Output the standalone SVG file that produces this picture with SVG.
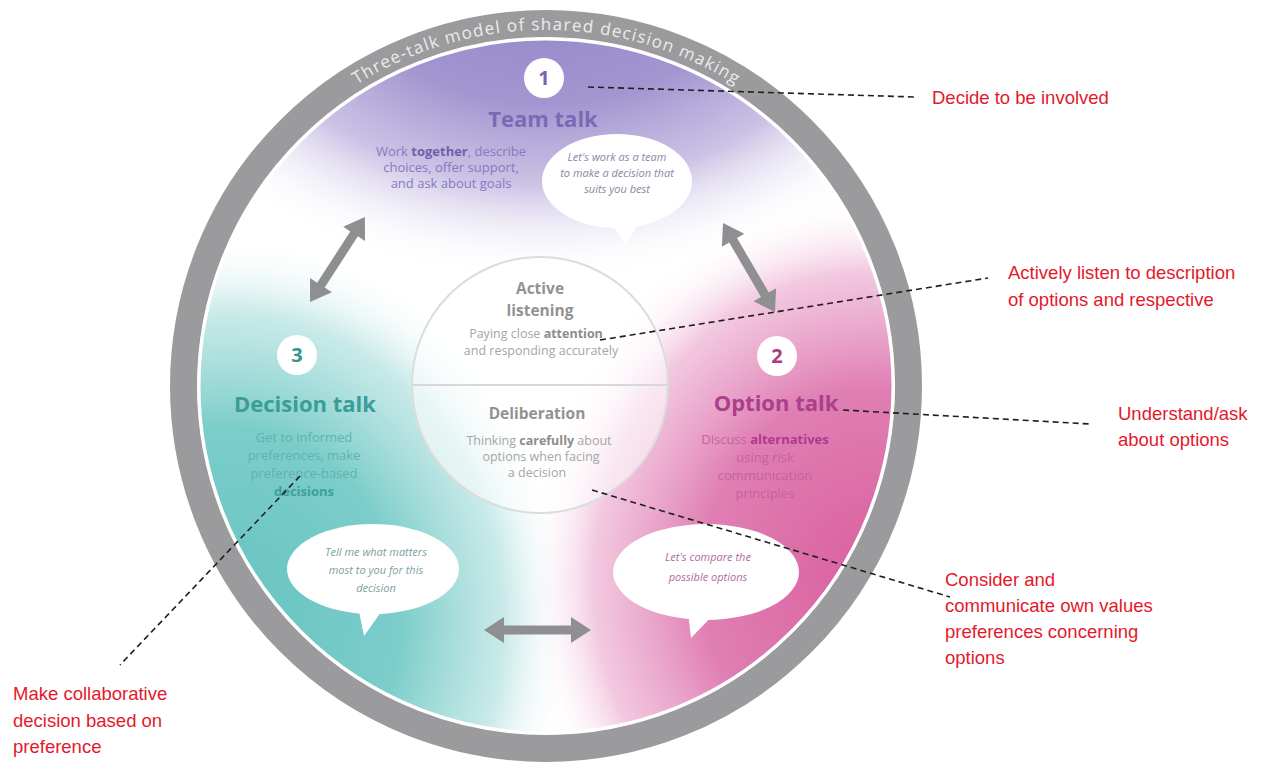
<svg xmlns="http://www.w3.org/2000/svg" width="1281" height="767" viewBox="0 0 1281 767">
<defs>
<style>
.red{font-family:"Liberation Sans",Arial,sans-serif;font-size:18.5px;fill:#e3192b}
.dash{fill:none;stroke:#1f1f1f;stroke-width:1.6;stroke-dasharray:6 4}
.desc{font-family:"Open Sans","Liberation Sans",sans-serif;font-size:13px;text-anchor:middle}
.ttl{font-family:"Open Sans","Liberation Sans",sans-serif;font-weight:bold;font-size:22px;text-anchor:middle}
.num{font-family:"Open Sans","Liberation Sans",sans-serif;font-weight:bold;font-size:20px;text-anchor:middle}
.bub{font-family:"Open Sans","Liberation Sans",sans-serif;font-style:italic;font-size:11px;text-anchor:middle}
.ctr{font-family:"Open Sans","Liberation Sans",sans-serif;font-size:12.5px;text-anchor:middle;fill:#a5a5a5}
.ctrb{font-family:"Open Sans","Liberation Sans",sans-serif;font-weight:bold;font-size:15.5px;text-anchor:middle;fill:#929292}
.arrow{fill:#8f8f91}
.white{fill:#ffffff}
</style>
<clipPath id="disc"><circle cx="546" cy="386" r="348"/></clipPath>
<radialGradient id="gPurple" gradientUnits="userSpaceOnUse" cx="0" cy="0" r="320" gradientTransform="translate(546,-40) scale(1.4,1)">
<stop offset="0" stop-color="#9282c7"/>
<stop offset="0.45" stop-color="#a395d0"/>
<stop offset="0.7" stop-color="#c2b7e0" stop-opacity="0.85"/>
<stop offset="1" stop-color="#ffffff" stop-opacity="0"/>
</radialGradient>
<radialGradient id="gTeal" gradientUnits="userSpaceOnUse" cx="0" cy="0" r="350" gradientTransform="translate(225,620) scale(1,1.1)">
<stop offset="0" stop-color="#66c3c0"/>
<stop offset="0.5" stop-color="#7bcdca"/>
<stop offset="0.8" stop-color="#bce5e3" stop-opacity="0.8"/>
<stop offset="1" stop-color="#ffffff" stop-opacity="0"/>
</radialGradient>
<radialGradient id="gPink" gradientUnits="userSpaceOnUse" cx="0" cy="0" r="350" gradientTransform="translate(875,580) scale(1,1.1)">
<stop offset="0" stop-color="#d95f9e"/>
<stop offset="0.5" stop-color="#e07fb4"/>
<stop offset="0.8" stop-color="#efbad7" stop-opacity="0.8"/>
<stop offset="1" stop-color="#ffffff" stop-opacity="0"/>
</radialGradient>
<path id="arcText" d="M 190 386 A 356 356 0 0 1 902 386"/>
</defs>

<rect width="1281" height="767" fill="#ffffff"/>

<g id="wheel">
<circle cx="546" cy="386" r="362.5" fill="none" stroke="#9b9b9d" stroke-width="27"/>
<circle cx="546" cy="386" r="348" fill="#ffffff"/>
<g clip-path="url(#disc)">
<rect x="190" y="30" width="730" height="730" fill="url(#gPurple)"/>
<rect x="190" y="30" width="730" height="730" fill="url(#gTeal)"/>
<rect x="190" y="30" width="730" height="730" fill="url(#gPink)"/>
</g>
<circle cx="546" cy="386" r="347" fill="none" stroke="#ffffff" stroke-width="3"/>
<text font-family="'Open Sans','Liberation Sans',sans-serif" font-size="17" fill="#ececec"><textPath href="#arcText" startOffset="50%" text-anchor="middle" textLength="399" lengthAdjust="spacing">Three-talk model of shared decision making</textPath></text>
</g>

<g id="center">
<circle cx="540" cy="385" r="128" fill="#ffffff" fill-opacity="0.55" stroke="#dcdcdc" stroke-width="2"/>
<line x1="412" y1="385" x2="668" y2="385" stroke="#d8d8d8" stroke-width="2"/>
<text class="ctrb" x="540" y="294">Active</text>
<text class="ctrb" x="540" y="316">listening</text>
<text class="ctr" x="536" y="338">Paying close <tspan font-weight="bold" fill="#8c8c8c">attention</tspan></text>
<text class="ctr" x="541" y="355">and responding accurately</text>
<text class="ctrb" x="537" y="419">Deliberation</text>
<text class="ctr" x="539" y="445">Thinking <tspan font-weight="bold" fill="#8c8c8c">carefully</tspan> about</text>
<text class="ctr" x="541" y="461">options when facing</text>
<text class="ctr" x="537" y="477">a decision</text>
</g>

<g id="team-talk">
<circle cx="544" cy="78" r="20" class="white"/>
<text class="num" x="544" y="85" fill="#7766b0">1</text>
<text class="ttl" x="543" y="127" fill="#7a69b4">Team talk</text>
<text class="desc" x="451" y="156" fill="#8779c0">Work <tspan font-weight="bold" fill="#6f5fae">together</tspan>, describe</text>
<text class="desc" x="451" y="172" fill="#8779c0">choices, offer support,</text>
<text class="desc" x="451" y="188" fill="#8779c0">and ask about goals</text>
<ellipse cx="617" cy="181" rx="75" ry="47" class="white"/>
<polygon points="610,222 626,245 640,220" class="white"/>
<text class="bub" x="617" y="161" fill="#8a86a0">Let's work as a team</text>
<text class="bub" x="617" y="177" fill="#8a86a0">to make a decision that</text>
<text class="bub" x="617" y="193" fill="#8a86a0">suits you best</text>
</g>

<g id="option-talk">
<circle cx="777" cy="356" r="20" class="white"/>
<text class="num" x="777" y="363" fill="#ad3b80">2</text>
<text class="ttl" x="776" y="411" fill="#ab3f8c">Option talk</text>
<text class="desc" x="765" y="444" fill="#c461a2">Discuss <tspan font-weight="bold" fill="#b0398a">alternatives</tspan></text>
<text class="desc" x="765" y="462" fill="#c461a2">using risk</text>
<text class="desc" x="765" y="480" fill="#c461a2">communication</text>
<text class="desc" x="765" y="498" fill="#c461a2">principles</text>
<ellipse cx="706" cy="572" rx="93" ry="48" class="white"/>
<polygon points="688,612 691,638 716,612" class="white"/>
<text class="bub" x="708" y="561" fill="#b06aa0">Let's compare the</text>
<text class="bub" x="708" y="581" fill="#b06aa0">possible options</text>
</g>

<g id="decision-talk">
<circle cx="297" cy="355" r="20" class="white"/>
<text class="num" x="297" y="362" fill="#35948f">3</text>
<text class="ttl" x="305" y="412" fill="#3a9d98">Decision talk</text>
<text class="desc" x="304" y="442" fill="#5fb3af">Get to informed</text>
<text class="desc" x="304" y="460" fill="#5fb3af">preferences, make</text>
<text class="desc" x="304" y="478" fill="#5fb3af">preference-based</text>
<text class="desc" x="304" y="496" font-weight="bold" fill="#3f9f9a">decisions</text>
<ellipse cx="373" cy="569" rx="86" ry="45" class="white"/>
<polygon points="358,606 364,636 386,605" class="white"/>
<text class="bub" x="376" y="556" fill="#7a9fa0">Tell me what matters</text>
<text class="bub" x="376" y="574" fill="#7a9fa0">most to you for this</text>
<text class="bub" x="376" y="592" fill="#7a9fa0">decision</text>
</g>

<g id="cycle-arrows">
<path class="arrow" transform="translate(337.5,259.5) rotate(-57.1)" d="M -50.5 0 L -30.5 -13 L -30.5 -4.5 L 30.5 -4.5 L 30.5 -13 L 50.5 0 L 30.5 13 L 30.5 4.5 L -30.5 4.5 L -30.5 13 Z"/>
<path class="arrow" transform="translate(749,267.5) rotate(59.7)" d="M -51.5 0 L -31.5 -13 L -31.5 -4.5 L 31.5 -4.5 L 31.5 -13 L 51.5 0 L 31.5 13 L 31.5 4.5 L -31.5 4.5 L -31.5 13 Z"/>
<path class="arrow" transform="translate(537.5,630)" d="M -53.5 0 L -33.5 -13 L -33.5 -4.5 L 33.5 -4.5 L 33.5 -13 L 53.5 0 L 33.5 13 L 33.5 4.5 L -33.5 4.5 L -33.5 13 Z"/>
</g>

<g id="connectors">
<line class="dash" x1="588" y1="87" x2="915" y2="97"/>
<line class="dash" x1="600" y1="340" x2="988" y2="278"/>
<line class="dash" x1="843" y1="410" x2="1090" y2="424"/>
<line class="dash" x1="592" y1="490" x2="950" y2="597"/>
<line class="dash" x1="300" y1="476" x2="120" y2="665"/>
</g>

<g id="label-involved"><text class="red" x="932" y="104">Decide to be involved</text></g>
<g id="label-listen"><text class="red" x="1008" y="279">Actively listen to description</text><text class="red" x="1008" y="306">of options and respective</text></g>
<g id="label-understand"><text class="red" x="1118" y="420">Understand/ask</text><text class="red" x="1118" y="446">about options</text></g>
<g id="label-consider"><text class="red" x="945" y="586">Consider and</text><text class="red" x="945" y="612">communicate own values</text><text class="red" x="945" y="638">preferences concerning</text><text class="red" x="945" y="664">options</text></g>
<g id="label-collab"><text class="red" x="13" y="700">Make collaborative</text><text class="red" x="13" y="727">decision based on</text><text class="red" x="13" y="753">preference</text></g>
</svg>
